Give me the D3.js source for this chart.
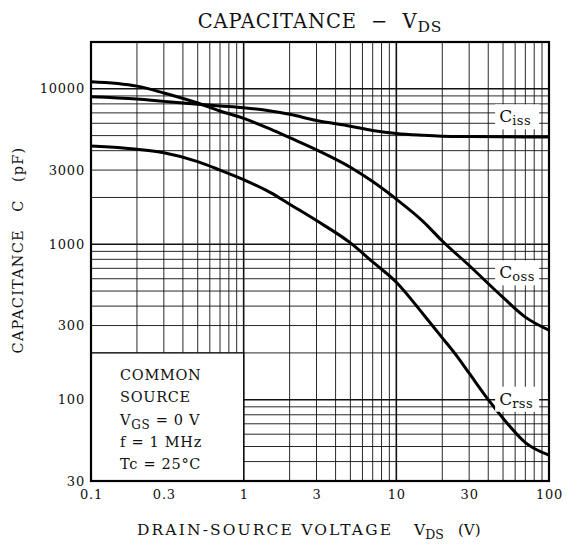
<!DOCTYPE html>
<html><head><meta charset="utf-8">
<script src="https://cdn.jsdelivr.net/npm/d3@7"></script>
<style>
html,body{margin:0;padding:0;background:#fff;}
svg text{font-family:"DejaVu Serif","Liberation Serif",serif;fill:#111;white-space:pre;}
</style></head>
<body>
<svg id="chart" width="567" height="548"></svg>
<script>
// ---- data ----
const vds  = [0.1, 0.2, 0.3, 0.5, 0.7, 1, 1.5, 2, 3, 5, 7, 10, 15, 20, 30, 50, 70, 100];
const ciss = [8900, 8600, 8300, 7950, 7750, 7550, 7200, 6850, 6250, 5750, 5400, 5150, 5020, 4960, 4930, 4910, 4900, 4900];
const coss = [11100, 10400, 9400, 8100, 7200, 6450, 5500, 4850, 4050, 3130, 2530, 1950, 1400, 1050, 730, 455, 340, 280];
const crssV = [0.1, 0.2, 0.3, 0.5, 0.7, 1, 1.5, 2, 3, 5, 7, 10, 15, 20, 25, 30, 40, 50, 70, 100];
const crss = [4280, 4080, 3880, 3400, 3000, 2600, 2150, 1810, 1420, 1020, 770, 570, 355, 250, 190, 148, 100, 76, 53, 44];
const xTicks = [0.1, 0.3, 1, 3, 10, 30, 100];
const xTickLabels = ["0.1", "0.3", "1", "3", "10", "30", "100"];
const yTicks = [30, 100, 300, 1000, 3000, 10000];
const yTickLabels = ["30", "100", "300", "1000", "3000", "10000"];
const seriesLabels = [{name:"C", sub:"iss", v:60, c:6550}, {name:"C", sub:"oss", v:60, c:650}, {name:"C", sub:"rss", v:60, c:100}];
const condLines = ["COMMON", "SOURCE", "VGS = 0 V", "f = 1 MHz", "Tc = 25°C"];

// ---- layout ----
const svg = d3.select("#chart");
const L = 91, R = 549, T = 42, B = 481;
const x = d3.scaleLog().domain([0.1, 100]).range([L, R]);
const y = d3.scaleLog().domain([30, 20000]).range([B, T]);

// grid
const xGrid = [];
for (let d = 0.1; d < 100; d *= 10) for (let k = 1; k <= 9; k++) xGrid.push({v: +(d*k).toPrecision(3), major: k === 1});
const yGrid = [];
[10, 100, 1000, 10000].forEach(d => { for (let k = 1; k <= 9; k++) { const v = d*k; if (v > 30 && v < 20000) yGrid.push({v, major: k === 1}); } });

const g = svg.append("g");
g.selectAll("line.xg").data(xGrid).join("line")
  .attr("x1", d => x(d.v)).attr("x2", d => x(d.v)).attr("y1", T).attr("y2", B)
  .attr("stroke", "#111").attr("stroke-width", d => d.major ? 1.6 : 0.9);
g.selectAll("line.yg").data(yGrid).join("line")
  .attr("y1", d => y(d.v)).attr("y2", d => y(d.v)).attr("x1", L).attr("x2", R)
  .attr("stroke", "#111").attr("stroke-width", d => d.major ? 1.6 : 0.9);

// conditions box (covers grid)
svg.append("rect").attr("x", x(0.1)).attr("y", y(200)).attr("width", x(1) - x(0.1)).attr("height", y(30) - y(200))
  .attr("fill", "#fff").attr("stroke", "#111").attr("stroke-width", 1.3);
condLines.forEach((t, i) => {
  const yy = y(200) + 27 + i * 22.3;
  const tx = svg.append("text").attr("x", x(0.1) + 29).attr("y", yy).attr("font-size", 14.5).attr("letter-spacing", 0.7);
  if (t.startsWith("VGS")) {
    tx.append("tspan").text("V");
    tx.append("tspan").attr("font-size", 12).attr("dy", 4).text("GS");
    tx.append("tspan").attr("dy", -4).text(" = 0 V");
  } else {
    tx.text(t);
  }
});

// curves
const line = d3.line().x(d => x(d[0])).y(d => y(d[1])).curve(d3.curveMonotoneX);
[[vds, ciss], [vds, coss], [crssV, crss]].forEach(([xs, ys]) => {
  svg.append("path").attr("d", line(xs.map((v, i) => [v, ys[i]])))
    .attr("fill", "none").attr("stroke", "#000").attr("stroke-width", 3).attr("stroke-linejoin", "round");
});

// series labels with white background
seriesLabels.forEach(s => {
  const cx = x(s.v), cy = y(s.c);
  svg.append("rect").attr("x", cx - 20).attr("y", cy - 13).attr("width", 44).attr("height", 25).attr("fill", "#fff");
  const t = svg.append("text").attr("x", cx - 16).attr("y", cy + 5).attr("font-size", 17);
  t.append("tspan").text(s.name);
  t.append("tspan").attr("font-size", 13).attr("dy", 3).attr("letter-spacing", 0.5).text(s.sub);
});

// border
svg.append("rect").attr("x", L).attr("y", T).attr("width", R - L).attr("height", B - T)
  .attr("fill", "none").attr("stroke", "#000").attr("stroke-width", 2.2);

// axes labels (ticks)
const xAxis = d3.axisBottom(x).tickValues(xTicks).tickFormat((d, i) => xTickLabels[i]).tickSize(0).tickPadding(9);
const xa = svg.append("g").attr("transform", `translate(0,${B})`).call(xAxis);
xa.select(".domain").remove();
xa.selectAll("text").attr("font-size", 13).attr("letter-spacing", 0.8).attr("fill", "#111").attr("font-family", "DejaVu Serif");

const yAxis = d3.axisLeft(y).tickValues(yTicks).tickFormat((d, i) => yTickLabels[i]).tickSize(0).tickPadding(6);
const ya = svg.append("g").attr("transform", `translate(${L},0)`).call(yAxis);
ya.select(".domain").remove();
ya.selectAll("text").attr("font-size", 13).attr("letter-spacing", 0.8).attr("fill", "#111").attr("font-family", "DejaVu Serif");

// title
const title = svg.append("text").attr("x", (L + R) / 2).attr("y", 28).attr("text-anchor", "middle").attr("font-size", 19.5).attr("letter-spacing", 0.9);
title.append("tspan").text("CAPACITANCE  \u2212  V");
title.append("tspan").attr("font-size", 15.5).attr("dy", 4).text("DS");

// x axis title
svg.append("text").attr("x", 137).attr("y", 535).attr("font-size", 15.5).attr("textLength", 254).attr("lengthAdjust", "spacing").text("DRAIN-SOURCE VOLTAGE");
const xv = svg.append("text").attr("x", 414).attr("y", 535).attr("font-size", 15.5);
xv.append("tspan").text("V");
xv.append("tspan").attr("font-size", 12.5).attr("dy", 4).text("DS");
svg.append("text").attr("x", 458).attr("y", 535).attr("font-size", 15).text("(V)");

// y axis title
svg.append("text").attr("transform", "translate(23,250) rotate(-90)").attr("text-anchor", "middle")
  .attr("font-size", 14.5).attr("letter-spacing", 1.2).text("CAPACITANCE   C   (pF)");
</script>
</body></html>
